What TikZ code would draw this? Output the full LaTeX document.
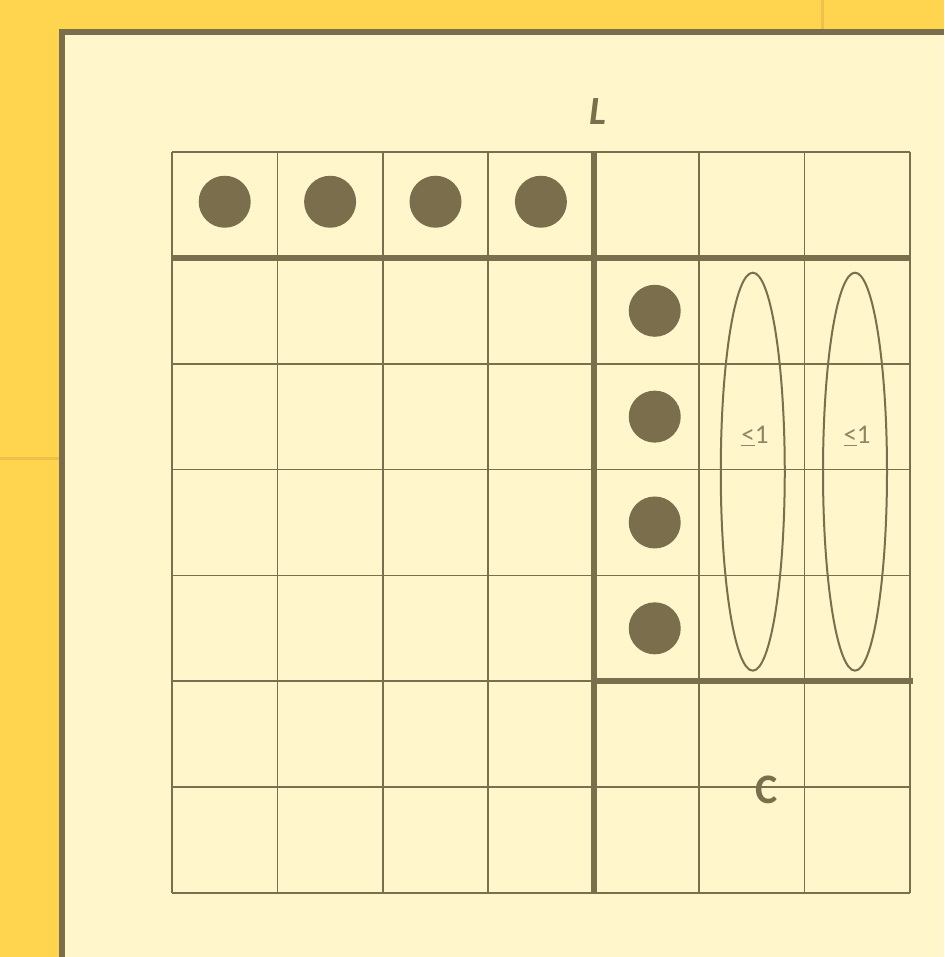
\documentclass[tikz,border=0pt]{standalone}
\usepackage{fontspec}
\setmainfont{Carlito}
\usepackage{xcolor}
\definecolor{sunny}{HTML}{FFD54F}
\definecolor{cream}{HTML}{FFF6CC}
\definecolor{olive}{HTML}{7A6E4C}
\definecolor{faint}{HTML}{F2C04A}
\usepackage{tikz}
\usetikzlibrary{positioning,shapes.geometric}

\begin{document}
\begin{tikzpicture}[
  x=1pt,y=-1pt,
  thin line/.style={draw=olive,line width=1.8pt},
  thick line/.style={draw=olive,line width=6pt},
  dot/.style={circle,fill=olive,inner sep=0pt,minimum size=52pt},
  bound/.style={ellipse,draw=olive,line width=2pt,inner sep=0pt,minimum width=64pt,minimum height=398pt},
  bnd label/.style={font=\fontsize{27}{27}\selectfont,text=olive!85},
  big label/.style={font=\fontsize{42}{42}\selectfont\bfseries,text=olive}
]
\useasboundingbox (0,0) rectangle (944,957);
% background and panel
\fill[sunny] (0,0) rectangle (944,957);
\draw[faint,line width=3pt] (822,0) -- (822,30);
\draw[faint,line width=3pt] (0,458) -- (60,458);
\fill[cream] (62,32) rectangle (944,957);
\draw[olive,line width=6.5pt] (62,957) -- (62,32) -- (944,32);

\begin{scope}[shift={(172,152)},x=105.4pt,y=-105.85pt]
% grid
\foreach \i in {0,...,7} {
  \draw[thin line] (\i,0) -- (\i,7);
  \draw[thin line] (0,\i) -- (7,\i);
}
\draw[thick line] (0,1) -- (7,1);
\draw[thick line] (4,0) -- (4,7);
\draw[thick line] (4,5) -- (7.03,5);

% dots in the top row
\foreach \i in {1,...,4}
  \node[dot] (top\i) at (\i-0.5,0.47) {};
% dots in column L
\foreach \j in {1,...,4}
  \node[dot] (col\j) at (4.58,\j+0.5) {};

% bounds
\node[bound] (bndA) at (5.51,3.02) {};
\node[bound] (bndB) at (6.48,3.02) {};
\node[bnd label] (labA) at (5.53,2.68) {\underline{<}1};
\node[bnd label] (labB) at (6.5,2.68) {\underline{<}1};

\node[big label] (cname) at (5.64,6.03) {C};
\end{scope}
\node[big label,font=\fontsize{40}{40}\selectfont\bfseries\itshape] (lname) at (598,112) {L};
\end{tikzpicture}
\end{document}
